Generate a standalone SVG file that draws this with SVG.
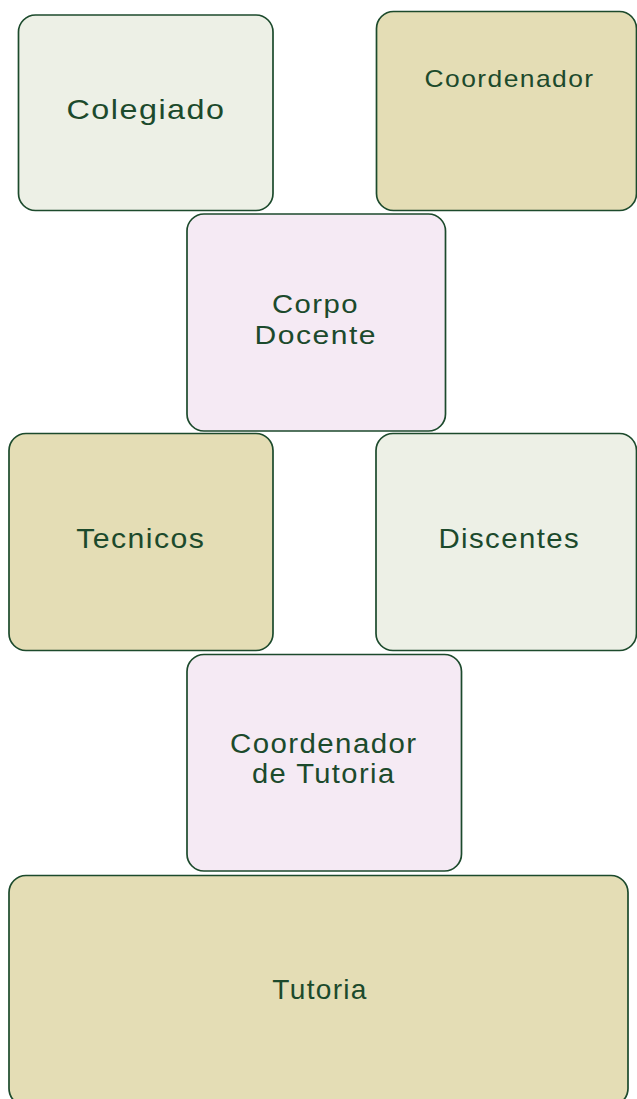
<svg xmlns="http://www.w3.org/2000/svg" width="637" height="1099" viewBox="0 0 637 1099">
  <style>
    .box { stroke: #1c4a2c; stroke-width: 1.7; }
    .sage { fill: #edf0e6; }
    .khaki { fill: #e4ddb5; }
    .pink { fill: #f5eaf4; }
    .lbl { font-family: "Liberation Sans", Arial, sans-serif; fill: #1c4a2c; letter-spacing: 1.3px; }
  </style>
  <rect x="0" y="0" width="637" height="1099" fill="#ffffff"/>
  <g id="connectors"></g>
  <g id="colegiado">
    <rect class="box sage" x="18.5" y="15" width="254.5" height="195.5" rx="17"/>
    <text class="lbl" x="66.5" y="119.3" font-size="28" textLength="159" lengthAdjust="spacingAndGlyphs">Colegiado</text>
  </g>
  <g id="coordenador">
    <rect class="box khaki" x="376.5" y="11.5" width="260" height="199" rx="17"/>
    <text class="lbl" x="424.5" y="86.7" font-size="24" textLength="170" lengthAdjust="spacingAndGlyphs">Coordenador</text>
  </g>
  <g id="corpo-docente">
    <rect class="box pink" x="187" y="214" width="258.5" height="217" rx="17"/>
    <text class="lbl" x="272" y="312.7" font-size="26" textLength="87" lengthAdjust="spacingAndGlyphs">Corpo</text>
    <text class="lbl" x="254.5" y="344" font-size="26" textLength="122.5" lengthAdjust="spacingAndGlyphs">Docente</text>
  </g>
  <g id="tecnicos">
    <rect class="box khaki" x="9" y="433.5" width="264" height="217" rx="17"/>
    <text class="lbl" x="76.3" y="548.3" font-size="28" textLength="129" lengthAdjust="spacingAndGlyphs">Tecnicos</text>
  </g>
  <g id="discentes">
    <rect class="box sage" x="376" y="433.5" width="260.5" height="217" rx="17"/>
    <text class="lbl" x="438.5" y="548.3" font-size="28" textLength="141.5" lengthAdjust="spacingAndGlyphs">Discentes</text>
  </g>
  <g id="coordenador-tutoria">
    <rect class="box pink" x="187" y="654.5" width="274.5" height="216.5" rx="17"/>
    <text class="lbl" x="230" y="753.3" font-size="27" textLength="187.5" lengthAdjust="spacingAndGlyphs">Coordenador</text>
    <text class="lbl" x="252" y="783.3" font-size="27" textLength="143.5" lengthAdjust="spacingAndGlyphs">de Tutoria</text>
  </g>
  <g id="tutoria">
    <rect class="box khaki" x="9" y="875.5" width="619" height="230" rx="17"/>
    <text class="lbl" x="272.3" y="999" font-size="28" textLength="95.5" lengthAdjust="spacingAndGlyphs">Tutoria</text>
  </g>
</svg>
